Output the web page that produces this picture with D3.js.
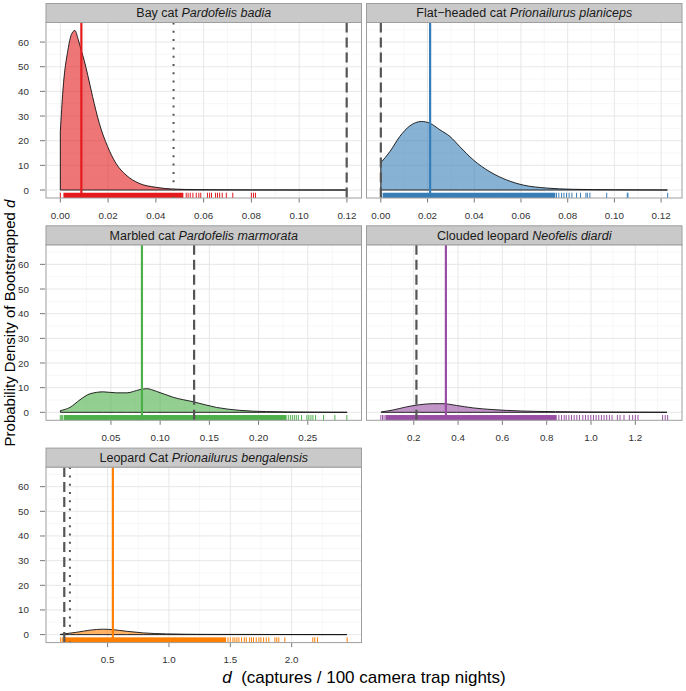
<!DOCTYPE html>
<html><head><meta charset="utf-8">
<script src="https://cdn.jsdelivr.net/npm/d3@7"></script>
<style>
body{margin:0;background:#fff}
text{font-family:"Liberation Sans",Arial,Helvetica,sans-serif}
</style>
</head><body>
<svg id="chart" width="686" height="691"></svg>
<script>
// ---------- data ----------
const commonNames = ["Bay cat", "Flat\u2212headed cat", "Marbled cat", "Clouded leopard", "Leopard Cat"];
const latinNames = ["Pardofelis badia", "Prionailurus planiceps", "Pardofelis marmorata", "Neofelis diardi", "Prionailurus bengalensis"];
const colors = ["#E41A1C", "#377EB8", "#4DAF4A", "#984EA3", "#FF7F00"];

// density curves [d, density]
const densityBay = [[0,23.7],[0.0011,40.6],[0.0032,56.9],[0.0046,63],[0.0061,64.7],[0.0075,61],[0.0088,56.5],[0.0100,52.5],[0.0115,46.5],[0.0135,37.9],[0.0163,27.1],[0.0198,17.6],[0.0233,10.8],[0.0275,6.1],[0.033,2.7],[0.040,1.1],[0.047,0.4],[0.058,0.15],[0.08,0.05],[0.1201,0]];
const densityFlat = [[0,11.1],[0.0039,15.6],[0.0081,21.7],[0.0124,26],[0.0174,27.8],[0.021,27.1],[0.0253,24.4],[0.0296,21.7],[0.0338,17.6],[0.0396,12.2],[0.0467,7.4],[0.0538,4.1],[0.061,2.0],[0.071,0.8],[0.082,0.3],[0.1,0.1],[0.1227,0.02]];
const densityMarbled = [[-0.0013,0.7],[0.0084,2.0],[0.0186,5.1],[0.0287,7.5],[0.0422,8.3],[0.0557,7.9],[0.066,7.9],[0.0794,9.2],[0.0862,9.6],[0.0963,8.5],[0.1132,6.1],[0.1345,4.2],[0.157,2.0],[0.181,0.8],[0.208,0.3],[0.25,0.08],[0.29,0.01]];
const densityClouded = [[0.053,0.15],[0.107,0.95],[0.167,2.2],[0.227,3.1],[0.287,3.5],[0.332,3.5],[0.392,2.8],[0.467,1.8],[0.557,1.1],[0.68,0.55],[0.84,0.27],[1.0,0.12],[1.343,0.02]];
const densityLeopard = [[0.115,0.1],[0.248,0.95],[0.356,1.8],[0.464,2.2],[0.545,2.0],[0.654,1.35],[0.79,0.7],[0.98,0.3],[1.3,0.1],[2.45,0.0]];

// rug: dense bands [from, to] and individual bootstrap values
const rugBandsBay = [[0.0015, 0.0513]];
const rugBay = [0.0, 0.0527,0.0535,0.0544,0.0555,0.0569,0.058,0.0588,0.0616,0.0625,0.0633,0.065,0.0658,0.0667,0.0678,0.0695,0.0722,0.080,0.0809,0.0817];
const rugBandsFlat = [[0.001, 0.0745]];
const rugFlat = [0.0003, 0.0752,0.0762,0.0774,0.0784,0.0795,0.0806,0.0818,0.0838,0.0855,0.0878,0.0884,0.0895,0.0967,0.1055,0.1058,0.1228];
const rugBandsMarbled = [[0.0026, 0.228]];
const rugMarbled = [-0.0014,0.0,0.001, 0.2302,0.2323,0.2343,0.2363,0.2383,0.2404,0.2437,0.2491,0.2511,0.2532,0.2552,0.2579,0.266,0.2775,0.2897];
const rugBandsClouded = [[0.074, 0.843]];
const rugClouded = [0.0514,0.059,0.066, 0.855,0.867,0.879,0.888,0.9,0.912,0.924,0.936,0.948,0.963,0.975,0.987,0.999,1.011,1.023,1.035,1.047,1.059,1.071,1.083,1.095,1.119,1.131,1.149,1.173,1.188,1.2,1.212,1.323,1.335,1.346];
const rugBandsLeopard = [[0.145, 1.462]];
const rugLeopard = [0.118,0.131, 1.481,1.5,1.521,1.537,1.554,1.57,1.592,1.614,1.63,1.657,1.673,1.689,1.711,1.733,1.749,1.771,1.793,1.814,1.863,1.879,1.895,1.944,2.172,2.188,2.21,2.452];

// reference lines
const estimateLine = [0.0088, 0.0211, 0.0815, 0.345, 0.543];   // solid, coloured
const dashedLine   = [0.1199, 0.0, 0.1345, 0.212, 0.147];        // long dash, grey
const dottedLine   = [0.0474, null, null, null, 0.193];          // dotted, grey

// axes
const yTicks = [0, 10, 20, 30, 40, 50, 60];
const xTicksBay = [0, 0.02, 0.04, 0.06, 0.08, 0.10, 0.12];
const xTicksFlat = [0, 0.02, 0.04, 0.06, 0.08, 0.10, 0.12];
const xTicksMarbled = [0.05, 0.10, 0.15, 0.20, 0.25];
const xTicksClouded = [0.2, 0.4, 0.6, 0.8, 1.0, 1.2];
const xTicksLeopard = [0.5, 1.0, 1.5, 2.0];
const xTickFormats = [".2f", ".2f", ".2f", ".1f", ".1f"];
const yTitle = "Probability Density of Bootstrapped ";
const xTitle = "(captures / 100 camera trap nights)";

// ---------- assemble ----------
const densities = [densityBay, densityFlat, densityMarbled, densityClouded, densityLeopard];
const rugBands = [rugBandsBay, rugBandsFlat, rugBandsMarbled, rugBandsClouded, rugBandsLeopard];
const rugs = [rugBay, rugFlat, rugMarbled, rugClouded, rugLeopard];
const xTicks = [xTicksBay, xTicksFlat, xTicksMarbled, xTicksClouded, xTicksLeopard];

// ---------- layout ----------
const svg = d3.select("#chart");
const colX = [46, 366.5];
const panelW = 315.5;
const rowTop = [22.5, 244.8, 467.1];
const panelH = 175.5;
const stripH = 19;

const allDensity = densities.flat().map(d => d[1]);
const yMin = 0, yMax = d3.max(allDensity);
const yPad = (yMax - yMin) * 0.05;

function expand(ext) { const p = (ext[1] - ext[0]) * 0.05; return [ext[0] - p, ext[1] + p]; }
function minorBreaks(major, dom) {
  const step = major[1] - major[0];
  const res = [];
  for (let v = major[0] - step / 2; v <= dom[1] + 1e-12; v += step) {
    if (v >= dom[0] - 1e-12 && !major.some(m => Math.abs(m - v) < 1e-9)) res.push(v);
  }
  return res;
}

densities.forEach((dens, i) => {
  const col = i % 2, row = Math.floor(i / 2);
  const x0 = colX[col], y0 = rowTop[row];
  const g = svg.append("g").attr("transform", `translate(${x0},${y0})`);

  const ext = d3.extent([...dens.map(d => d[0]), ...rugs[i], ...rugBands[i].flat()]);
  const xDom = expand(ext);
  const x = d3.scaleLinear().domain(xDom).range([0, panelW]);
  const y = d3.scaleLinear().domain([yMin - yPad, yMax + yPad]).range([panelH, 0]);

  // background
  g.append("rect").attr("width", panelW).attr("height", panelH).attr("fill", "#fff");

  // minor grid
  const yMinor = minorBreaks(yTicks, y.domain());
  g.selectAll(".ymin").data(yMinor).join("line")
    .attr("x1", 0).attr("x2", panelW).attr("y1", d => y(d)).attr("y2", d => y(d))
    .attr("stroke", "#f2f2f2").attr("stroke-width", 0.6);
  const xMinor = minorBreaks(xTicks[i], xDom);
  g.selectAll(".xmin").data(xMinor).join("line")
    .attr("y1", 0).attr("y2", panelH).attr("x1", d => x(d)).attr("x2", d => x(d))
    .attr("stroke", "#f2f2f2").attr("stroke-width", 0.6);
  // major grid
  g.selectAll(".ymaj").data(yTicks).join("line")
    .attr("x1", 0).attr("x2", panelW).attr("y1", d => y(d)).attr("y2", d => y(d))
    .attr("stroke", "#e4e4e4").attr("stroke-width", 0.9);
  g.selectAll(".xmaj").data(xTicks[i]).join("line")
    .attr("y1", 0).attr("y2", panelH).attr("x1", d => x(d)).attr("x2", d => x(d))
    .attr("stroke", "#e4e4e4").attr("stroke-width", 0.9);

  // density area
  const area = d3.area().x(d => x(d[0])).y0(y(0)).y1(d => y(d[1])).curve(d3.curveMonotoneX);
  g.append("path").datum(dens).attr("d", area)
    .attr("fill", colors[i]).attr("fill-opacity", 0.6)
    .attr("stroke", "#111").attr("stroke-width", 0.9).attr("stroke-linejoin", "round");

  // rug
  const rugLen = panelH * 0.03;
  g.selectAll(".band").data(rugBands[i]).join("rect")
    .attr("x", d => x(d[0]) - 0.5).attr("width", d => x(d[1]) - x(d[0]) + 1)
    .attr("y", panelH - rugLen).attr("height", rugLen)
    .attr("fill", colors[i]);
  g.selectAll(".rug").data(rugs[i]).join("line")
    .attr("x1", d => x(d)).attr("x2", d => x(d))
    .attr("y1", panelH - rugLen).attr("y2", panelH)
    .attr("stroke", colors[i]).attr("stroke-width", 1);

  // vertical lines
  g.append("line").attr("x1", x(estimateLine[i])).attr("x2", x(estimateLine[i]))
    .attr("y1", 0).attr("y2", panelH).attr("stroke", colors[i]).attr("stroke-width", 2.2);
  g.append("line").attr("x1", x(dashedLine[i])).attr("x2", x(dashedLine[i]))
    .attr("y1", 0).attr("y2", panelH).attr("stroke", "#555").attr("stroke-width", 2.2)
    .attr("stroke-dasharray", "10,5");
  if (dottedLine[i] !== null) {
    g.append("line").attr("x1", x(dottedLine[i])).attr("x2", x(dottedLine[i]))
      .attr("y1", 0).attr("y2", panelH).attr("stroke", "#555").attr("stroke-width", 2)
      .attr("stroke-dasharray", "2,6.3");
  }

  // panel border
  g.append("rect").attr("width", panelW).attr("height", panelH)
    .attr("fill", "none").attr("stroke", "#9e9e9e").attr("stroke-width", 1);

  // strip
  g.append("rect").attr("x", 0).attr("y", -stripH).attr("width", panelW).attr("height", stripH)
    .attr("fill", "#c9c9c9").attr("stroke", "#9e9e9e").attr("stroke-width", 1);
  const st = g.append("text").attr("x", panelW / 2).attr("y", -stripH / 2 + 4.3)
    .attr("text-anchor", "middle").attr("font-size", 12.5).attr("fill", "#1a1a1a");
  st.append("tspan").text(commonNames[i] + " ");
  st.append("tspan").attr("font-style", "italic").text(latinNames[i]);

  // x axis
  const xa = g.append("g").attr("transform", `translate(0,${panelH})`);
  const fmt = d3.format(xTickFormats[i]);
  xa.selectAll("line").data(xTicks[i]).join("line")
    .attr("x1", d => x(d)).attr("x2", d => x(d)).attr("y1", 0.5).attr("y2", 4.5)
    .attr("stroke", "#555").attr("stroke-width", 0.8);
  xa.selectAll("text").data(xTicks[i]).join("text")
    .attr("x", d => x(d)).attr("y", 20.5).attr("text-anchor", "middle")
    .attr("font-size", 9.8).attr("fill", "#333").text(d => fmt(d));

  // y axis (left column only)
  if (col === 0) {
    const ya = g.append("g");
    ya.selectAll("line").data(yTicks).join("line")
      .attr("x1", -6).attr("x2", -1).attr("y1", d => y(d)).attr("y2", d => y(d))
      .attr("stroke", "#555").attr("stroke-width", 0.8);
    ya.selectAll("text").data(yTicks).join("text")
      .attr("x", -17).attr("y", d => y(d) + 3.5).attr("text-anchor", "end")
      .attr("font-size", 9.8).attr("fill", "#333").text(d => d);
  }
});

// axis titles
const yt = svg.append("text").attr("transform", "translate(14.5,323) rotate(-90)")
  .attr("text-anchor", "middle").attr("font-size", 15).attr("fill", "#000");
yt.append("tspan").text(yTitle);
yt.append("tspan").attr("font-style", "italic").text("d");

const xt = svg.append("text").attr("x", 364).attr("y", 683)
  .attr("text-anchor", "middle").attr("font-size", 17).attr("fill", "#000")
  .attr("xml:space", "preserve");
xt.append("tspan").attr("font-style", "italic").text("d");
xt.append("tspan").text("  " + xTitle);
</script>
</body></html>
